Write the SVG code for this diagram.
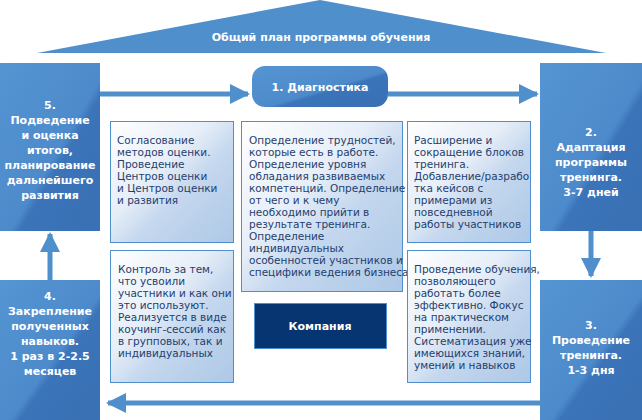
<svg xmlns="http://www.w3.org/2000/svg" width="642" height="420" viewBox="0 0 642 420">
<defs>
<linearGradient id="side" x1="0" y1="0" x2="1" y2="1"><stop offset="0" stop-color="#5595d2"/><stop offset="0.55" stop-color="#4d8acb"/><stop offset="0.6" stop-color="#3b74b9"/><stop offset="1" stop-color="#3a70b4"/></linearGradient>
<linearGradient id="card" x1="0" y1="0" x2="1" y2="1"><stop offset="0" stop-color="#ffffff"/><stop offset="0.4" stop-color="#e6eef8"/><stop offset="0.6" stop-color="#c4d7ee"/><stop offset="1" stop-color="#adc8e6"/></linearGradient>
<marker id="ah" viewBox="0 0 10 10" refX="9" refY="5" markerWidth="4" markerHeight="4" orient="auto"><path d="M0,0 L10,5 L0,10 z" fill="#4f8fcc"/></marker>
<style>
.side{fill:url(#side)}
.card{fill:url(#card);stroke:#4f8fcc;stroke-width:1}
.wt{font-family:"DejaVu Sans",sans-serif;font-size:11px;font-weight:bold;fill:#fff;text-anchor:middle}
.bt{font-family:"DejaVu Sans",sans-serif;font-size:10.5px;fill:#1f3e6e}
.ln{stroke:#4f8fcc;stroke-width:5;fill:none;marker-end:url(#ah)}
</style>
</defs>
<g id="roof"><polygon points="320,0 37,53 606,53" fill="#4f8fcc"/><text class="wt" x="321" y="41">Общий план программы обучения</text></g>
<g id="connectors">
<line class="ln" x1="100" y1="94" x2="248" y2="94"/>
<line class="ln" x1="388" y1="94" x2="537" y2="94"/>
<line class="ln" x1="591" y1="230" x2="591" y2="276"/>
<line class="ln" x1="540" y1="403" x2="108" y2="403"/>
<line class="ln" x1="50" y1="280" x2="50" y2="234"/>
</g>
<g id="n5"><rect class="side" x="0" y="63" width="100" height="168"/><text class="wt"><tspan x="50" y="109">5.</tspan><tspan x="50" y="124">Подведение</tspan><tspan x="50" y="139">и оценка</tspan><tspan x="50" y="154">итогов,</tspan><tspan x="50" y="169">планирование</tspan><tspan x="50" y="184">дальнейшего</tspan><tspan x="50" y="199">развития</tspan></text></g>
<g id="n1"><rect x="252" y="66" width="136" height="41" rx="13" fill="url(#side)"/><text class="wt" x="320" y="91">1. Диагностика</text></g>
<g id="n2"><rect class="side" x="540" y="63" width="102" height="168"/><text class="wt"><tspan x="591" y="136">2.</tspan><tspan x="591" y="151">Адаптация</tspan><tspan x="591" y="166">программы</tspan><tspan x="591" y="181">тренинга.</tspan><tspan x="591" y="196">3-7 дней</tspan></text></g>
<g id="n3"><rect class="side" x="540" y="280" width="102" height="140"/><text class="wt"><tspan x="591" y="329">3.</tspan><tspan x="591" y="344">Проведение</tspan><tspan x="591" y="359">тренинга.</tspan><tspan x="591" y="374">1-3 дня</tspan></text></g>
<g id="n4"><rect class="side" x="0" y="280" width="100" height="140"/><text class="wt"><tspan x="50" y="300">4.</tspan><tspan x="50" y="315">Закрепление</tspan><tspan x="50" y="330">полученных</tspan><tspan x="50" y="345">навыков.</tspan><tspan x="50" y="360">1 раз в 2-2.5</tspan><tspan x="50" y="375">месяцев</tspan></text></g>
<g id="c1"><rect class="card" x="110.5" y="121.5" width="123" height="121"/><text class="bt"><tspan x="117" y="144">Согласование</tspan><tspan x="117" y="156">методов оценки.</tspan><tspan x="117" y="168">Проведение</tspan><tspan x="117" y="180">Центров оценки</tspan><tspan x="117" y="192">и Центров оценки</tspan><tspan x="117" y="204">и развития</tspan></text></g>
<g id="c2"><rect class="card" x="241.5" y="121.5" width="161" height="170"/><text class="bt"><tspan x="249" y="144">Определение трудностей,</tspan><tspan x="249" y="156">которые есть в работе.</tspan><tspan x="249" y="168">Определение уровня</tspan><tspan x="249" y="180">обладания развиваемых</tspan><tspan x="249" y="192">компетенций. Определение</tspan><tspan x="249" y="204">от чего и к чему</tspan><tspan x="249" y="216">необходимо прийти в</tspan><tspan x="249" y="228">результате тренинга.</tspan><tspan x="249" y="240">Определение</tspan><tspan x="249" y="252">индивидуальных</tspan><tspan x="249" y="264">особенностей участников и</tspan><tspan x="249" y="276">специфики ведения бизнеса</tspan></text></g>
<g id="c3"><rect class="card" x="407.5" y="121.5" width="123" height="121"/><text class="bt"><tspan x="414" y="144">Расширение и</tspan><tspan x="414" y="156">сокращение блоков</tspan><tspan x="414" y="168">тренинга.</tspan><tspan x="414" y="180">Добавление/разрабо</tspan><tspan x="414" y="192">тка кейсов с</tspan><tspan x="414" y="204">примерами из</tspan><tspan x="414" y="216">повседневной</tspan><tspan x="414" y="228">работы участников</tspan></text></g>
<g id="c4"><rect class="card" x="110.5" y="250.5" width="123" height="132"/><text class="bt"><tspan x="118" y="273">Контроль за тем,</tspan><tspan x="118" y="285">что усвоили</tspan><tspan x="118" y="297">участники и как они</tspan><tspan x="118" y="309">это используют.</tspan><tspan x="118" y="321">Реализуется в виде</tspan><tspan x="118" y="333">коучинг-сессий как</tspan><tspan x="118" y="345">в групповых, так и</tspan><tspan x="118" y="357">индивидуальных</tspan></text></g>
<g id="c5"><rect class="card" x="407.5" y="250.5" width="123" height="132"/><text class="bt"><tspan x="414" y="273">Проведение обучения,</tspan><tspan x="414" y="285">позволяющего</tspan><tspan x="414" y="297">работать более</tspan><tspan x="414" y="309">эффективно. Фокус</tspan><tspan x="414" y="321">на практическом</tspan><tspan x="414" y="333">применении.</tspan><tspan x="414" y="345">Систематизация уже</tspan><tspan x="414" y="357">имеющихся знаний,</tspan><tspan x="414" y="369">умений и навыков</tspan></text></g>
<g id="company"><rect x="254.5" y="303.5" width="132" height="45" fill="#063571" stroke="#4f8fcc"/><text class="wt" x="320" y="330">Компания</text></g>
</svg>
